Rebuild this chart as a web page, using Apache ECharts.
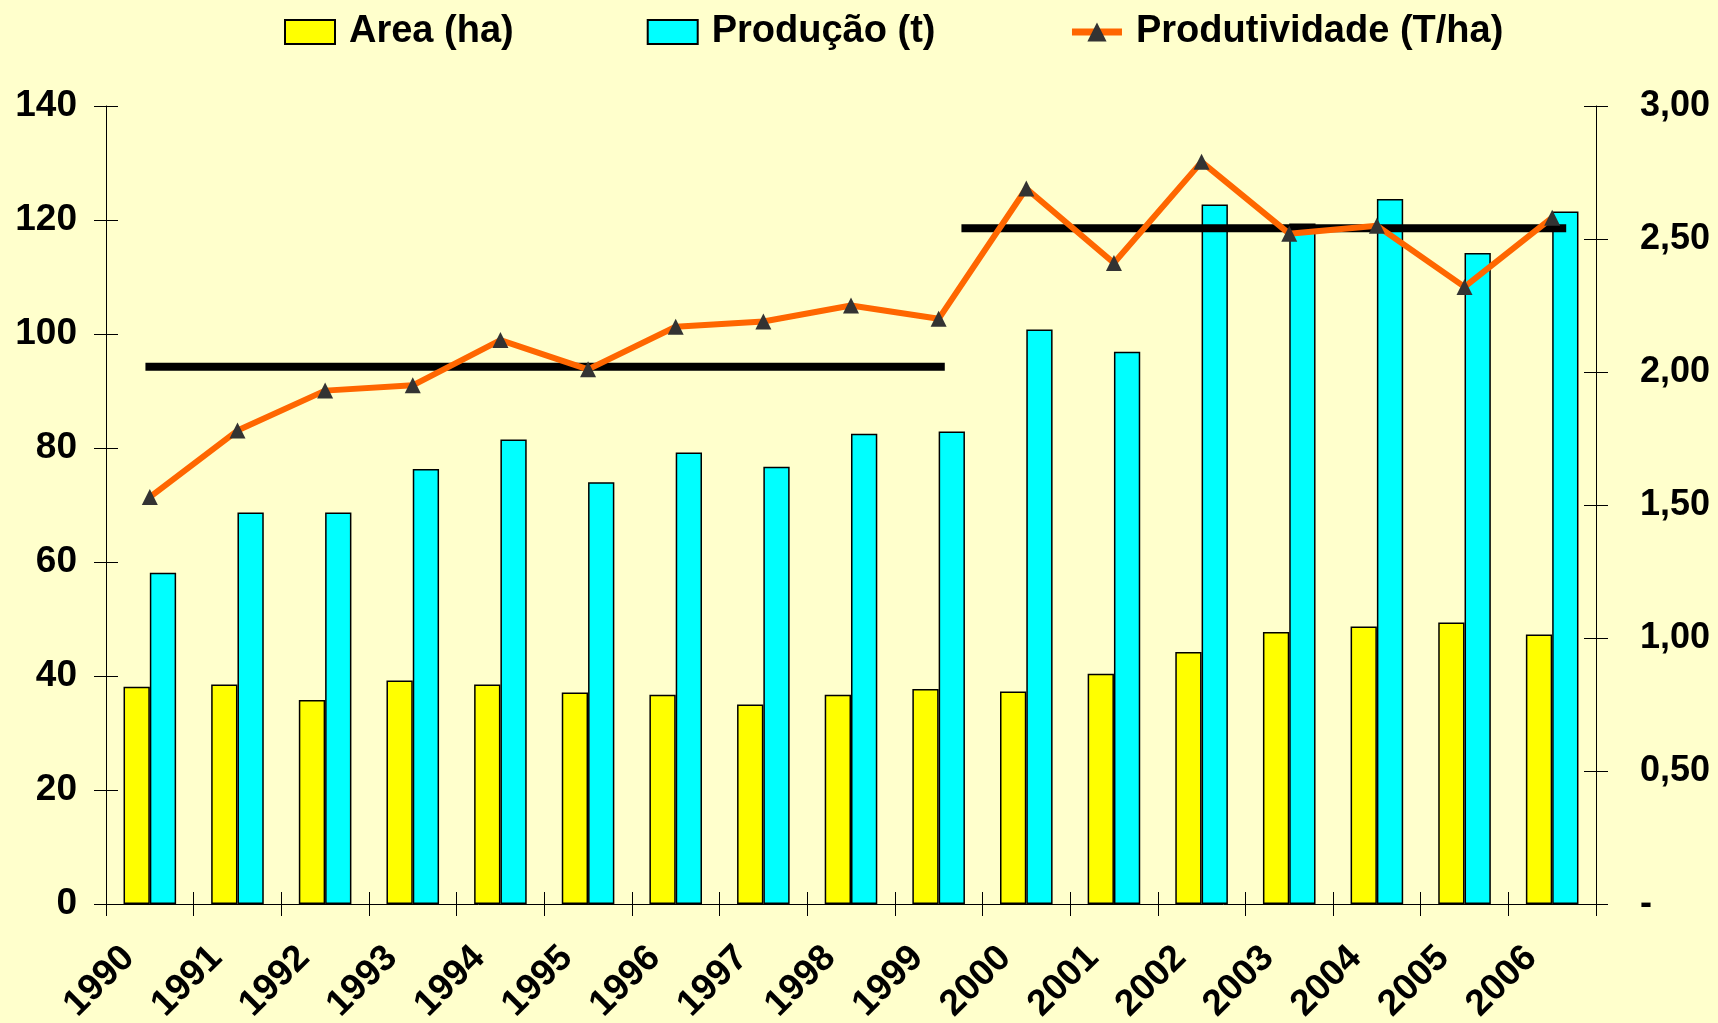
<!DOCTYPE html>
<html>
<head>
<meta charset="utf-8">
<script src="https://cdn.jsdelivr.net/npm/echarts@6/dist/echarts.min.js"></script>
<style>
html,body{margin:0;padding:0;background:#FFFFCC;}
#c{width:1718px;height:1023px;}
</style>
</head>
<body>
<div id="c"></div>
<script>
const years = ['1990','1991','1992','1993','1994','1995','1996','1997','1998','1999','2000','2001','2002','2003','2004','2005','2006'];
const area = [38.1,38.5,35.8,39.2,38.5,37.1,36.7,35.0,36.7,37.7,37.3,40.4,44.2,47.7,48.7,49.4,47.3];
const producao = [58.1,68.7,68.7,76.3,81.5,74.0,79.2,76.7,82.5,82.9,100.8,96.9,122.7,119.4,123.7,114.2,121.5];
const produtividade = [1.53,1.78,1.93,1.95,2.12,2.01,2.17,2.19,2.25,2.20,2.69,2.41,2.79,2.52,2.55,2.32,2.58];
// period averages (T/ha) and their spans in category units
const avgLevels = [2.02, 2.54];
const avgSpans = [[0.45, 9.57], [9.76, 16.66]];
const leftTicks = [0,20,40,60,80,100,120,140];
const rightTicks = [0,0.5,1,1.5,2,2.5,3];

const FONT = '"Liberation Sans", Arial, sans-serif';
const chart = echarts.init(document.getElementById('c'));

const avgSeries = avgLevels.map((lv, i) => ({
  name: 'avg' + i,
  type: 'line',
  xAxisIndex: 2,
  yAxisIndex: 1,
  data: [[avgSpans[i][0], lv], [avgSpans[i][1], lv]],
  symbol: 'none',
  lineStyle: {color: '#000', width: 8, cap: 'butt'},
  z: 4,
  silent: true
}));

chart.setOption({
  backgroundColor: '#FFFFCC',
  animation: false,
  textStyle: {fontFamily: FONT},
  legend: {
    left: 279, top: 8,
    itemWidth: 50, itemHeight: 24, itemGap: 133,
    textStyle: {fontSize: 38, fontWeight: 'bold', color: '#000', fontFamily: FONT, padding: [0, 0, 0, 9]},
    data: [
      {name: 'Area (ha)', icon: 'rect'},
      {name: 'Produção (t)', icon: 'rect'},
      {name: 'Produtividade (T/ha)', itemStyle: {color: '#333333'}, lineStyle: {color: '#FF6600', width: 7}}
    ]
  },
  grid: {left: 106, right: 122, top: 106, bottom: 119, containLabel: false, outerBoundsMode: 'none'},
  xAxis: [
    {
      type: 'category', data: years, boundaryGap: true,
      axisLine: {lineStyle: {color: '#000', width: 1}},
      axisTick: {show: true, inside: false, length: 12, lineStyle: {color: '#000'}},
      axisLabel: {rotate: 45, margin: 27, fontSize: 37, fontWeight: 'bold', color: '#000', fontFamily: FONT, interval: 0,
        padding: [0, 30, 0, 0]}
    },
    {
      type: 'category', data: years, boundaryGap: true, position: 'bottom',
      axisLine: {show: false},
      axisTick: {show: true, inside: true, length: 12, lineStyle: {color: '#000'}},
      axisLabel: {show: false}
    },
    {type: 'value', min: 0, max: 17, show: false}
  ],
  yAxis: [
    {
      type: 'value', min: 0, max: 140, interval: 20, position: 'left',
      splitLine: {show: false},
      axisLine: {show: true, lineStyle: {color: '#000', width: 1}},
      axisTick: {show: true, length: 12, lineStyle: {color: '#000'}},
      axisLabel: {margin: 29, fontSize: 37, fontWeight: 'bold', color: '#000', fontFamily: FONT}
    },
    {
      type: 'value', min: 0, max: 3, interval: 0.5, position: 'right',
      splitLine: {show: false},
      axisLine: {show: true, lineStyle: {color: '#000', width: 1}},
      axisTick: {show: true, length: 12, lineStyle: {color: '#000'}},
      axisLabel: {margin: 44, fontSize: 36, fontWeight: 'bold', color: '#000', fontFamily: FONT,
        formatter: v => v === 0 ? '-' : v.toFixed(2).replace('.', ',')}
    },
    {
      type: 'value', min: 0, max: 140, interval: 20, position: 'left',
      splitLine: {show: false}, axisLine: {show: false},
      axisTick: {show: true, inside: true, length: 12, lineStyle: {color: '#000'}},
      axisLabel: {show: false}
    },
    {
      type: 'value', min: 0, max: 3, interval: 0.5, position: 'right',
      splitLine: {show: false}, axisLine: {show: false},
      axisTick: {show: true, inside: true, length: 12, lineStyle: {color: '#000'}},
      axisLabel: {show: false}
    }
  ],
  series: [
    {
      name: 'Area (ha)', type: 'bar', data: area, barWidth: '30%', barGap: '0%',
      itemStyle: {color: '#FFFF00', borderColor: '#000', borderWidth: 1.5}
    },
    {
      name: 'Produção (t)', type: 'bar', data: producao, barWidth: '30%', barGap: '0%',
      itemStyle: {color: '#00FFFF', borderColor: '#000', borderWidth: 1.5}
    },
    ...avgSeries,
    {
      name: 'Produtividade (T/ha)', type: 'line', yAxisIndex: 1, data: produtividade,
      symbol: 'triangle', symbolSize: 16,
      itemStyle: {color: '#333333'},
      lineStyle: {color: '#FF6600', width: 6},
      z: 5
    }
  ]
});
</script>
</body>
</html>
